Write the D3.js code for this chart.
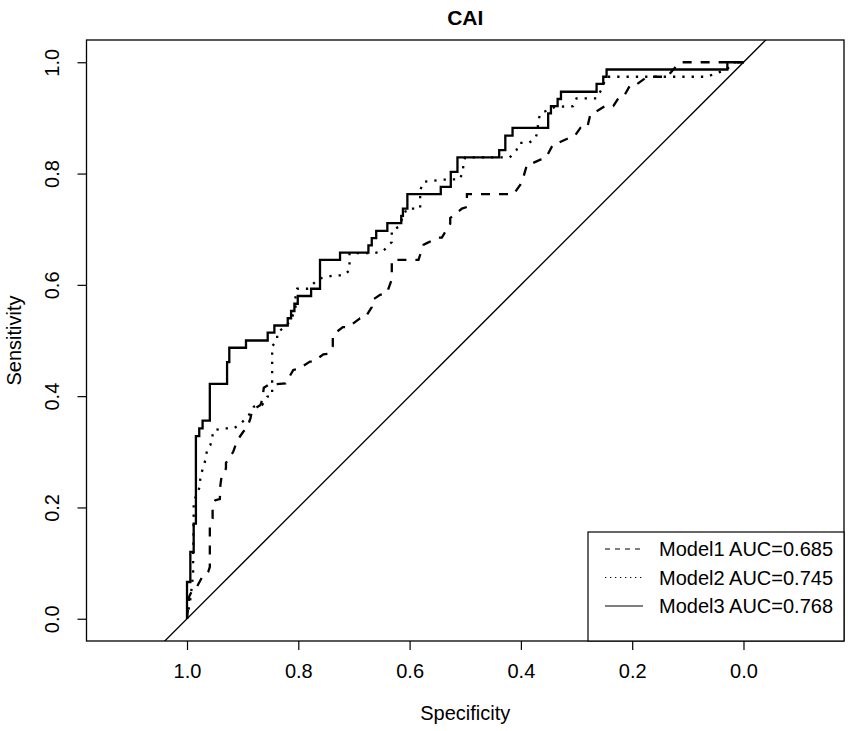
<!DOCTYPE html>
<html>
<head>
<meta charset="utf-8">
<script src="https://cdn.jsdelivr.net/npm/d3@7"></script>
<style>
    body { margin: 0; background: #fff; }
    text { font-family: "Liberation Sans", Arial, sans-serif; fill: #000; }
</style>
</head>
<body>
<div id="chart"></div>
<script>
// ticks
const xTicks = [1.0, 0.8, 0.6, 0.4, 0.2, 0.0];
const yTicks = [0.0, 0.2, 0.4, 0.6, 0.8, 1.0];

// Model1 (dashed): specificity / sensitivity
const m1Spec = [1.000,0.996,0.990,0.982,0.971,0.962,0.959,0.959,0.954,0.954,0.949,0.941,0.940,0.938,0.930,0.930,0.917,0.910,0.899,0.892,0.886,0.883,0.868,0.865,0.862,0.854,0.823,0.809,0.800,0.779,0.773,0.755,0.746,0.738,0.738,0.720,0.710,0.689,0.680,0.668,0.668,0.653,0.641,0.632,0.632,0.584,0.575,0.569,0.549,0.542,0.527,0.527,0.506,0.497,0.497,0.413,0.401,0.396,0.389,0.385,0.365,0.355,0.342,0.333,0.311,0.303,0.293,0.281,0.275,0.267,0.249,0.234,0.225,0.216,0.203,0.191,0.173,0.137,0.119,0.113,0.000];
const m1Sens = [0.000,0.040,0.052,0.058,0.078,0.084,0.093,0.165,0.180,0.200,0.213,0.215,0.240,0.255,0.270,0.280,0.300,0.320,0.336,0.344,0.360,0.375,0.384,0.393,0.415,0.420,0.423,0.447,0.449,0.462,0.462,0.475,0.476,0.490,0.510,0.524,0.524,0.540,0.541,0.560,0.572,0.582,0.585,0.610,0.645,0.645,0.672,0.675,0.685,0.685,0.710,0.720,0.737,0.740,0.763,0.763,0.780,0.792,0.816,0.816,0.825,0.828,0.853,0.855,0.865,0.868,0.882,0.882,0.907,0.910,0.921,0.921,0.935,0.937,0.960,0.961,0.974,0.974,0.995,1.000,1.000];

// Model2 (dotted)
const m2Spec = [1.000,0.994,0.991,0.989,0.989,0.988,0.988,0.977,0.976,0.967,0.964,0.958,0.952,0.934,0.916,0.904,0.889,0.880,0.865,0.856,0.847,0.847,0.838,0.838,0.820,0.811,0.805,0.805,0.802,0.782,0.764,0.737,0.719,0.708,0.708,0.665,0.648,0.632,0.632,0.620,0.605,0.581,0.581,0.575,0.542,0.509,0.504,0.503,0.500,0.420,0.408,0.403,0.386,0.374,0.370,0.369,0.365,0.338,0.306,0.300,0.264,0.257,0.246,0.066,0.030,0.018,0.000];
const m2Sens = [0.000,0.035,0.060,0.084,0.100,0.192,0.210,0.237,0.255,0.285,0.303,0.312,0.339,0.342,0.342,0.350,0.366,0.381,0.384,0.399,0.401,0.490,0.500,0.514,0.528,0.542,0.560,0.578,0.593,0.593,0.611,0.617,0.617,0.626,0.657,0.657,0.660,0.677,0.698,0.704,0.737,0.737,0.770,0.785,0.789,0.790,0.807,0.822,0.829,0.829,0.842,0.855,0.855,0.863,0.875,0.894,0.908,0.920,0.921,0.935,0.935,0.948,0.974,0.974,0.987,1.000,1.000];

// Model3 (solid), step curve: at each specificity the curve rises to the sensitivity
const m3Spec = [1.000,1.000,0.994,0.988,0.984,0.978,0.972,0.959,0.928,0.924,0.894,0.855,0.843,0.819,0.813,0.807,0.801,0.777,0.761,0.725,0.674,0.668,0.660,0.640,0.615,0.612,0.604,0.544,0.526,0.514,0.439,0.428,0.415,0.351,0.346,0.334,0.328,0.264,0.252,0.246,0.029,0.000];
const m3Sens = [0.000,0.066,0.120,0.171,0.328,0.342,0.356,0.422,0.461,0.487,0.500,0.514,0.527,0.540,0.553,0.566,0.580,0.593,0.645,0.658,0.671,0.684,0.697,0.711,0.724,0.737,0.763,0.776,0.803,0.829,0.842,0.868,0.882,0.908,0.921,0.934,0.947,0.961,0.974,0.987,1.000,1.000];

const legendLabels = ["Model1 AUC=0.685", "Model2 AUC=0.745", "Model3 AUC=0.768"];
const chartTitle = "CAI";

const margin = {top: 40, right: 7, bottom: 90, left: 86.5};
const size = {width: 851, height: 731};
const width = size.width - margin.left - margin.right;
const height = size.height - margin.top - margin.bottom;
const fontSize = "20px";

const series = [
    {spec: m1Spec, sens: m1Sens, dash: "9,9", width: 2.3, curve: d3.curveLinear, legendDash: "5,5"},
    {spec: m2Spec, sens: m2Sens, dash: "2.3,7", width: 2.3, curve: d3.curveLinear, legendDash: "1.3,3.7"},
    {spec: m3Spec, sens: m3Sens, dash: null, width: 2.3, curve: d3.curveStepAfter, legendDash: null}
];

const svg = d3.select("#chart").append("svg")
    .attr("width", size.width)
    .attr("height", size.height);

const g = svg.append("g")
    .attr("transform", "translate(" + margin.left + "," + margin.top + ")");

// R style: 4% padding on y, x stretched so that asp = 1
const yScale = d3.scaleLinear().domain([-0.04, 1.04]).range([height, 0]);
const unit = height / 1.08;
const xPad = (width / unit - 1) / 2;
const xScale = d3.scaleLinear().domain([1 + xPad, -xPad]).range([0, width]);

g.append("clipPath").attr("id", "plotClip")
    .append("rect").attr("width", width).attr("height", height);

// diagonal reference line
g.append("line")
    .attr("clip-path", "url(#plotClip)")
    .attr("x1", xScale(1 + xPad)).attr("y1", yScale(-xPad))
    .attr("x2", xScale(-xPad)).attr("y2", yScale(1 + xPad))
    .attr("stroke", "#000").attr("stroke-width", 1.3);

// curves
series.forEach(s => {
    const pts = s.spec.map((v, i) => [v, s.sens[i]]);
    g.append("path")
        .datum(pts)
        .attr("fill", "none")
        .attr("stroke", "#000")
        .attr("stroke-width", s.width)
        .attr("stroke-dasharray", s.dash)
        .attr("d", d3.line().x(d => xScale(d[0])).y(d => yScale(d[1])).curve(s.curve));
});

// axes
const xAxisG = g.append("g")
    .attr("transform", "translate(0," + height + ")")
    .call(d3.axisBottom(xScale).tickValues(xTicks).tickFormat(d3.format(".1f")).tickSize(9).tickPadding(14));
const yAxisG = g.append("g")
    .call(d3.axisLeft(yScale).tickValues(yTicks).tickFormat(d3.format(".1f")).tickSize(9).tickPadding(14));
[xAxisG, yAxisG].forEach(a => {
    a.select(".domain").remove();
    a.selectAll("line").attr("stroke", "#000").attr("stroke-width", 1.2);
    a.selectAll("text").style("font-size", fontSize).style("font-family", "Liberation Sans, Arial, sans-serif");
});
yAxisG.selectAll(".tick text")
    .attr("x", null).attr("dy", null)
    .attr("text-anchor", "middle")
    .attr("transform", "translate(-35,0) rotate(-90)")
    .attr("dominant-baseline", "central");

// frame
g.append("rect")
    .attr("width", width).attr("height", height)
    .attr("fill", "none").attr("stroke", "#000").attr("stroke-width", 1.3);

// labels
svg.append("text")
    .attr("x", margin.left + width / 2).attr("y", 25)
    .attr("text-anchor", "middle")
    .style("font-size", "21px").style("font-weight", "bold")
    .text(chartTitle);
svg.append("text")
    .attr("x", margin.left + width / 2).attr("y", margin.top + height + 79)
    .attr("text-anchor", "middle")
    .style("font-size", fontSize)
    .text("Specificity");
svg.append("text")
    .attr("transform", "translate(21," + (margin.top + height / 2) + ") rotate(-90)")
    .attr("text-anchor", "middle")
    .style("font-size", fontSize)
    .text("Sensitivity");

// legend, bottom right corner of the plot
const legW = 256, legH = 109, rowH = 28.5;
const legG = g.append("g")
    .attr("transform", "translate(" + (width - legW) + "," + (height - legH) + ")");
legG.append("rect")
    .attr("width", legW).attr("height", legH)
    .attr("fill", "#fff").attr("stroke", "#000").attr("stroke-width", 1.2);
legendLabels.forEach((label, i) => {
    const y = 17 + i * rowH;
    legG.append("line")
        .attr("x1", 17).attr("x2", 55).attr("y1", y).attr("y2", y)
        .attr("stroke", "#000").attr("stroke-width", 1.2)
        .attr("stroke-dasharray", series[i].legendDash);
    legG.append("text")
        .attr("x", 71).attr("y", y)
        .attr("dominant-baseline", "central")
        .style("font-size", fontSize)
        .text(label);
});
</script>
</body>
</html>
